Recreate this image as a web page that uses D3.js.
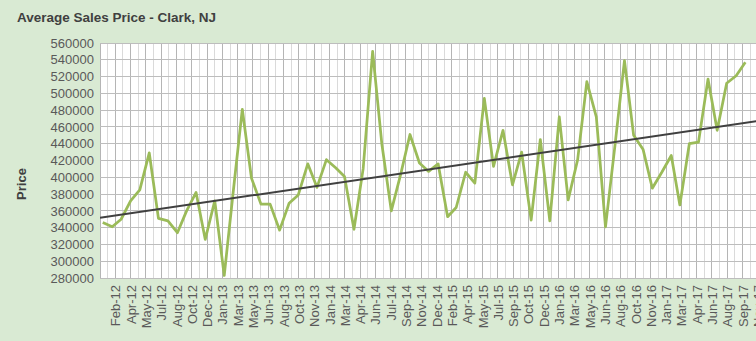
<!DOCTYPE html>
<html>
<head>
<meta charset="utf-8">
<script src="https://cdn.jsdelivr.net/npm/d3@7"></script>
<style>
  html, body { margin: 0; padding: 0; background: #d9ead3; }
  svg { display: block; font-family: "Liberation Sans", Arial, sans-serif; }
</style>
</head>
<body>
<svg id="chart" width="756" height="341"></svg>
<script>
// Monthly average sales price, Clark NJ
const months = [
  "Jan-12","Feb-12","Mar-12","Apr-12","May-12","Jun-12","Jul-12","Aug-12","Sep-12","Oct-12","Nov-12","Dec-12",
  "Jan-13","Feb-13","Mar-13","Apr-13","May-13","Jun-13","Jul-13","Aug-13","Sep-13","Oct-13","Nov-13","Dec-13",
  "Jan-14","Feb-14","Mar-14","Apr-14","May-14","Jun-14","Jul-14","Aug-14","Sep-14","Oct-14","Nov-14","Dec-14",
  "Jan-15","Feb-15","Mar-15","Apr-15","May-15","Jun-15","Jul-15","Aug-15","Sep-15","Oct-15","Nov-15","Dec-15",
  "Jan-16","Feb-16","Mar-16","Apr-16","May-16","Jun-16","Jul-16","Aug-16","Sep-16","Oct-16","Nov-16","Dec-16",
  "Jan-17","Feb-17","Mar-17","Apr-17","May-17","Jun-17","Jul-17","Aug-17","Sep-17","Oct-17"
];
const avgPrice = [
  346000, 341000, 350000, 372000, 385000, 429000, 351000, 348000, 334000, 360000, 382000, 326000,
  372000, 283000, 378000, 481000, 399000, 368000, 368000, 337000, 369000, 379000, 416000, 388000,
  421000, 411000, 401000, 338000, 410000, 550000, 440000, 360000, 404000, 451000, 417000, 407000,
  416000, 353000, 364000, 406000, 393000, 494000, 413000, 456000, 391000, 430000, 349000, 445000,
  348000, 472000, 373000, 421000, 514000, 472000, 341000, 438000, 539000, 450000, 433000, 387000,
  406000, 426000, 367000, 440000, 442000, 517000, 456000, 512000, 521000, 537000
];
const priceTicks = [280000, 300000, 320000, 340000, 360000, 380000, 400000, 420000,
                    440000, 460000, 480000, 500000, 520000, 540000, 560000];
// Date axis: labelled ticks every 50 days, minor gridlines halfway between
const dateTickFirst = "2012-02-11";
const dateTickStepDays = 50;
const dateAxisSpanDays = 2170;

const svg = d3.select("#chart");
const margin = { left: 100, top: 43, bottom: 278, right: 764 };

const parseMonth = d3.utcParse("%b-%y");
const parseDay = d3.utcParse("%Y-%m-%d");
const fmtTick = d3.utcFormat("%b-%y");

const series = months.map((m, i) => ({ date: parseMonth(m), value: avgPrice[i] }));

const firstTick = parseDay(dateTickFirst);
const axisStart = d3.utcDay.offset(firstTick, -dateTickStepDays);
const axisEnd = d3.utcDay.offset(axisStart, dateAxisSpanDays);

const x = d3.scaleUtc().domain([axisStart, axisEnd]).range([margin.left, margin.right]);
const y = d3.scaleLinear().domain([280000, 560000]).range([margin.bottom, margin.top]);

const majorTicks = d3.range(0, dateAxisSpanDays + 1, dateTickStepDays)
  .map(d => d3.utcDay.offset(axisStart, d));
const minorTicks = d3.range(dateTickStepDays / 2, dateAxisSpanDays + 1, dateTickStepDays)
  .map(d => d3.utcDay.offset(axisStart, d));

// plot area
svg.append("rect")
  .attr("x", margin.left).attr("y", margin.top)
  .attr("width", margin.right - margin.left).attr("height", margin.bottom - margin.top)
  .attr("fill", "#ffffff");

svg.append("clipPath").attr("id", "plotClip")
  .append("rect")
  .attr("x", margin.left).attr("y", margin.top - 2)
  .attr("width", margin.right - margin.left).attr("height", margin.bottom - margin.top + 4);

const grid = svg.append("g").attr("shape-rendering", "crispEdges");
grid.selectAll("line.minor").data(minorTicks).join("line")
  .attr("class", "minor")
  .attr("x1", d => x(d)).attr("x2", d => x(d))
  .attr("y1", margin.top).attr("y2", margin.bottom)
  .attr("stroke", "#dadada").attr("stroke-width", 1);
grid.selectAll("line.major").data(majorTicks).join("line")
  .attr("class", "major")
  .attr("x1", d => x(d)).attr("x2", d => x(d))
  .attr("y1", margin.top).attr("y2", margin.bottom)
  .attr("stroke", "#b5b5b5").attr("stroke-width", 1);
grid.selectAll("line.h").data(priceTicks).join("line")
  .attr("class", "h")
  .attr("x1", margin.left).attr("x2", margin.right)
  .attr("y1", d => y(d)).attr("y2", d => y(d))
  .attr("stroke", "#bdbdbd").attr("stroke-width", 1);

// y axis labels
const yAxis = svg.append("g")
  .attr("transform", `translate(${margin.left - 6},0)`)
  .call(d3.axisLeft(y).tickValues(priceTicks).tickSize(0).tickPadding(0).tickFormat(d3.format("d")));
yAxis.select(".domain").remove();
yAxis.selectAll("text")
  .attr("fill", "#595959")
  .style("font-size", "13px")
  .style("font-family", "'Liberation Sans', Arial, sans-serif");

// x axis labels (rotated)
const xAxis = svg.append("g")
  .attr("transform", `translate(0,${margin.bottom})`)
  .call(d3.axisBottom(x).tickValues(majorTicks.slice(1)).tickSize(0).tickFormat(fmtTick));
xAxis.select(".domain").remove();
xAxis.selectAll("text")
  .attr("fill", "#595959")
  .style("font-size", "13px")
  .style("font-family", "'Liberation Sans', Arial, sans-serif")
  .attr("text-anchor", "end")
  .attr("transform", "translate(0,7) rotate(-90)")
  .attr("x", 0).attr("y", 0).attr("dy", "0.35em");

const plotG = svg.append("g").attr("clip-path", "url(#plotClip)");

// price line
const line = d3.line().x(d => x(d.date)).y(d => y(d.value));
plotG.append("path")
  .datum(series)
  .attr("d", line)
  .attr("fill", "none")
  .attr("stroke", "#9bbb59")
  .attr("stroke-width", 2.75)
  .attr("stroke-linejoin", "round");

// linear trend (least squares on date)
const xs = series.map(d => +d.date), ys = series.map(d => d.value);
const mx = d3.mean(xs), my = d3.mean(ys);
const slope = d3.sum(xs, (v, i) => (v - mx) * (ys[i] - my)) / d3.sum(xs, v => (v - mx) ** 2);
const trendAt = t => my + slope * (+t - mx);
plotG.append("line")
  .attr("x1", x(axisStart)).attr("y1", y(trendAt(axisStart)))
  .attr("x2", x(axisEnd)).attr("y2", y(trendAt(axisEnd)))
  .attr("stroke", "#404040")
  .attr("stroke-width", 2);

// titles
svg.append("text")
  .attr("x", 17).attr("y", 22)
  .attr("fill", "#404040")
  .style("font-size", "13.5px").style("font-weight", "bold")
  .text("Average Sales Price - Clark, NJ");

svg.append("text")
  .attr("transform", "translate(26,184) rotate(-90)")
  .attr("text-anchor", "middle")
  .attr("fill", "#404040")
  .style("font-size", "13px").style("font-weight", "bold")
  .text("Price");
</script>
</body>
</html>
